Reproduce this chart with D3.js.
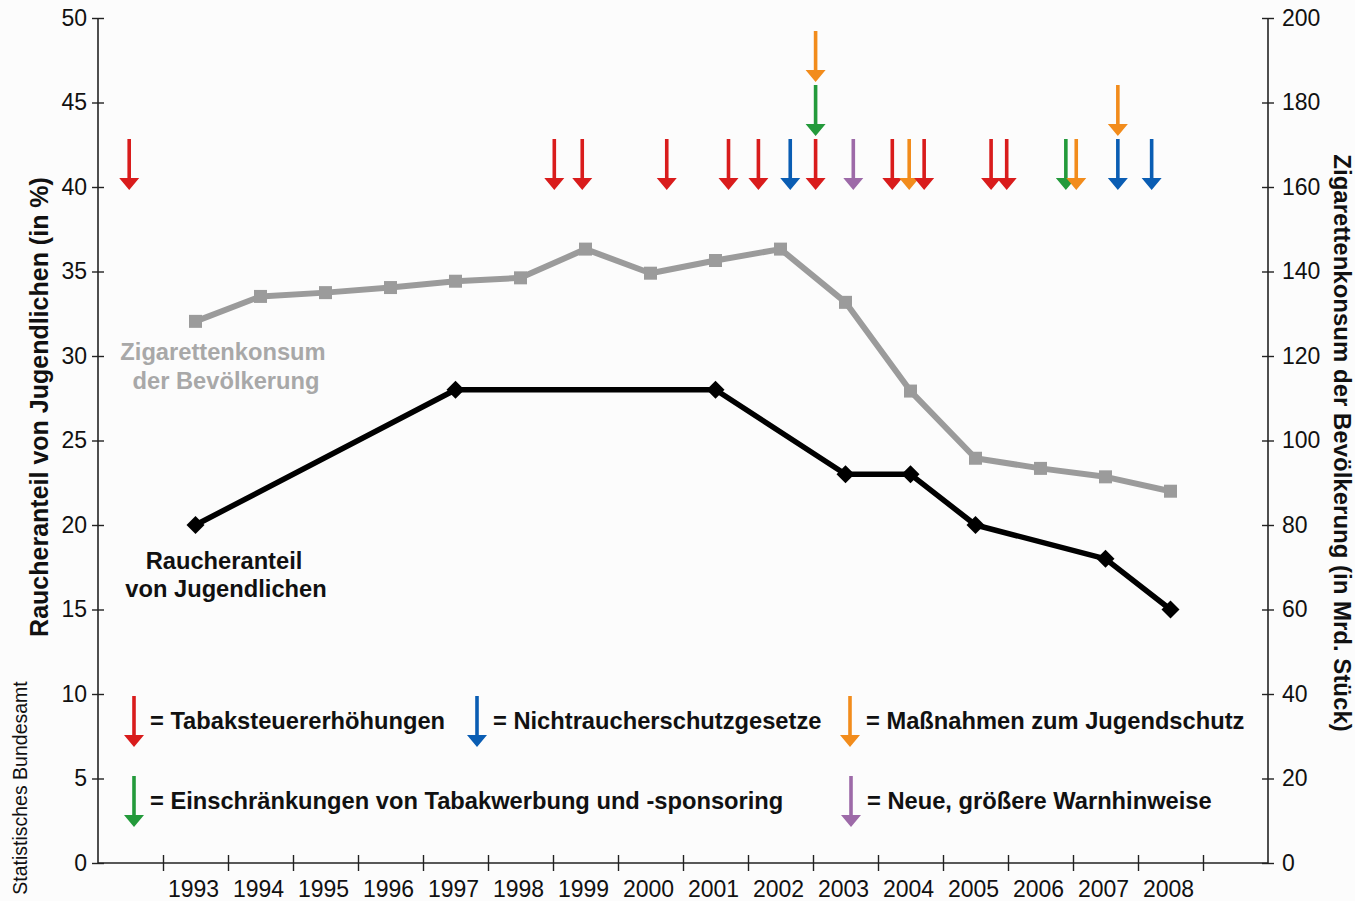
<!DOCTYPE html>
<html>
<head>
<meta charset="utf-8">
<script src="https://cdn.jsdelivr.net/npm/d3@7"></script>
<style>
  body { margin: 0; background: #fcfcfc; }
  svg { display: block; font-family: "Liberation Sans", Arial, sans-serif; }
</style>
</head>
<body>
<script>
// Jahre (Kategorien der x-Achse)
const jahre = [1993, 1994, 1995, 1996, 1997, 1998, 1999, 2000, 2001, 2002, 2003, 2004, 2005, 2006, 2007, 2008];
// Zigarettenkonsum der Bevölkerung (Mrd. Stück), rechte Achse
const konsum = [128.2, 134.1, 135.0, 136.2, 137.7, 138.5, 145.3, 139.6, 142.6, 145.3, 132.7, 111.7, 95.8, 93.4, 91.4, 88.0];
// Raucheranteil von Jugendlichen (%), linke Achse
const raucherJahre = [1993, 1997, 2001, 2003, 2004, 2005, 2007, 2008];
const raucherAnteil = [20, 28, 28, 23, 23, 20, 18, 15];

// Maßnahmen (Pfeile): Zeitpunkt, Art, Stapelebene
const massJahr  = [1991.98, 1998.52, 1998.95, 2000.25, 2001.20, 2001.66, 2002.15, 2002.54, 2002.54, 2002.54, 2003.12, 2003.72, 2003.98, 2004.21, 2005.24, 2005.48, 2006.39, 2006.55, 2007.19, 2007.19, 2007.71];
const massArt   = ["steuer", "steuer", "steuer", "steuer", "steuer", "steuer", "schutz", "steuer", "werbung", "jugend", "warn", "steuer", "jugend", "steuer", "steuer", "steuer", "werbung", "jugend", "schutz", "jugend", "schutz"];
const massStufe = [0, 0, 0, 0, 0, 0, 0, 0, 1, 2, 0, 0, 0, 0, 0, 0, 0, 0, 0, 1, 0];

// Legende
const legendeArt  = ["steuer", "schutz", "jugend", "werbung", "warn"];
const legendeText = ["= Tabaksteuererhöhungen", "= Nichtraucherschutzgesetze", "= Maßnahmen zum Jugendschutz",
                     "= Einschränkungen von Tabakwerbung und -sponsoring", "= Neue, größere Warnhinweise"];

const farben = {steuer: "#d91c1c", schutz: "#0a5db3", jugend: "#f28c1c", werbung: "#239a3b", warn: "#9d6aa8"};

const width = 1355, height = 901;
const mLeft = 98, mRight = 1268, mTop = 18, mBottom = 863;

const svg = d3.select("body").append("svg")
  .attr("width", width)
  .attr("height", height);

svg.append("rect").attr("width", width).attr("height", height).attr("fill", "#fcfcfc");

const x = d3.scaleLinear().domain([1991.5, 2009.5]).range([mLeft, mRight]);
const yL = d3.scaleLinear().domain([0, 50]).range([mBottom, mTop]);
const yR = d3.scaleLinear().domain([0, 200]).range([mBottom, mTop]);

// Achsen
const axisL = svg.append("g").attr("transform", `translate(${mLeft},0)`)
  .call(d3.axisLeft(yL).tickValues(d3.range(0, 51, 5)).tickSize(6).tickPadding(5));
const axisR = svg.append("g").attr("transform", `translate(${mRight},0)`)
  .call(d3.axisRight(yR).tickValues(d3.range(0, 201, 20)).tickSize(6).tickPadding(8));
const axisX = svg.append("g").attr("transform", `translate(0,${mBottom})`)
  .call(d3.axisBottom(x).tickValues(d3.range(1992.5, 2009, 1)).tickSize(8).tickFormat(""));

[axisL, axisR, axisX].forEach(a => {
  a.select(".domain").attr("stroke", "#222").attr("stroke-width", 1.6);
  a.selectAll(".tick line").attr("stroke", "#222").attr("stroke-width", 1.4);
  a.selectAll("text").attr("font-size", 23).attr("fill", "#111")
    .attr("font-family", "'Liberation Sans', Arial, sans-serif");
});
axisL.selectAll(".tick line").attr("x1", 6).attr("x2", -6);
axisR.selectAll(".tick line").attr("x1", -6).attr("x2", 6);
axisX.selectAll(".tick line").attr("y1", -8).attr("y2", 8);
axisX.select(".domain").attr("d", `M${mLeft},0H${mRight}`);
axisL.select(".domain").attr("d", `M0,${mTop}V${mBottom}`);
axisR.select(".domain").attr("d", `M0,${mTop}V${mBottom}`);

// Jahreszahlen
svg.append("g").selectAll("text").data(jahre).enter().append("text")
  .attr("x", d => x(d) - 2)
  .attr("y", 897)
  .attr("text-anchor", "middle")
  .attr("font-size", 23)
  .attr("fill", "#111")
  .text(d => d);

// Achsentitel
svg.append("text")
  .attr("transform", "translate(48,407) rotate(-90)")
  .attr("text-anchor", "middle")
  .attr("font-size", 25).attr("font-weight", "bold").attr("fill", "#111")
  .text("Raucheranteil von Jugendlichen (in %)");
svg.append("text")
  .attr("transform", "translate(1334,443) rotate(90)")
  .attr("text-anchor", "middle")
  .attr("font-size", 24).attr("font-weight", "bold").attr("fill", "#111")
  .text("Zigarettenkonsum der Bevölkerung (in Mrd. Stück)");
svg.append("text")
  .attr("transform", "translate(27,788) rotate(-90)")
  .attr("text-anchor", "middle")
  .attr("font-size", 19.5).attr("fill", "#111")
  .text("Statistisches Bundesamt");

// Konsum-Linie (grau)
const konsumLine = d3.line().x((d, i) => x(jahre[i])).y(d => yR(d));
svg.append("path").datum(konsum)
  .attr("d", konsumLine)
  .attr("fill", "none").attr("stroke", "#9b9b9b").attr("stroke-width", 6)
  .attr("stroke-linejoin", "round");
svg.append("g").selectAll("rect").data(konsum).enter().append("rect")
  .attr("x", (d, i) => x(jahre[i]) - 6.5)
  .attr("y", d => yR(d) - 6.5)
  .attr("width", 13).attr("height", 13)
  .attr("fill", "#9b9b9b");

// Raucheranteil-Linie (schwarz)
const raucherLine = d3.line().x((d, i) => x(raucherJahre[i])).y(d => yL(d));
svg.append("path").datum(raucherAnteil)
  .attr("d", raucherLine)
  .attr("fill", "none").attr("stroke", "#000").attr("stroke-width", 5.5)
  .attr("stroke-linejoin", "round");
svg.append("g").selectAll("path").data(raucherAnteil).enter().append("path")
  .attr("d", "M0,-9L9,0L0,9L-9,0Z")
  .attr("transform", (d, i) => `translate(${x(raucherJahre[i])},${yL(d)})`)
  .attr("fill", "#000");

// Beschriftungen im Diagramm
const grauText = svg.append("text").attr("text-anchor", "middle")
  .attr("font-size", 23.7).attr("font-weight", "bold").attr("fill", "#a8a8a8");
grauText.append("tspan").attr("x", 223).attr("y", 360).text("Zigarettenkonsum");
grauText.append("tspan").attr("x", 226).attr("y", 389).text("der Bevölkerung");
const schwarzText = svg.append("text").attr("text-anchor", "middle")
  .attr("font-size", 23.7).attr("font-weight", "bold").attr("fill", "#111");
schwarzText.append("tspan").attr("x", 224).attr("y", 569).text("Raucheranteil");
schwarzText.append("tspan").attr("x", 226).attr("y", 597).text("von Jugendlichen");

// Pfeil zeichnen: Spitze bei (px, tip)
function pfeil(g, px, tip, farbe) {
  const len = 51, hw = 10, hh = 12, sw = 1.8;
  g.append("path")
    .attr("d", `M${px - sw},${tip - len}H${px + sw}V${tip - hh}H${px + hw}L${px},${tip}L${px - hw},${tip - hh}H${px - sw}Z`)
    .attr("fill", farbe);
}

// Maßnahmen-Pfeile
const pfeile = svg.append("g");
massJahr.forEach((j, i) => {
  const tip = yL(40) + 3 - massStufe[i] * 54;
  pfeil(pfeile, x(j), tip, farben[massArt[i]]);
});

// Legende
const legX = [134, 477, 850, 134, 851];
const legY = [747, 747, 747, 827, 827];
const legende = svg.append("g");
legendeArt.forEach((a, i) => {
  pfeil(legende, legX[i], legY[i], farben[a]);
  legende.append("text")
    .attr("x", legX[i] + 16)
    .attr("y", legY[i] - 18)
    .attr("font-size", 23.7).attr("font-weight", "bold").attr("fill", "#111")
    .text(legendeText[i]);
});
</script>
</body>
</html>
